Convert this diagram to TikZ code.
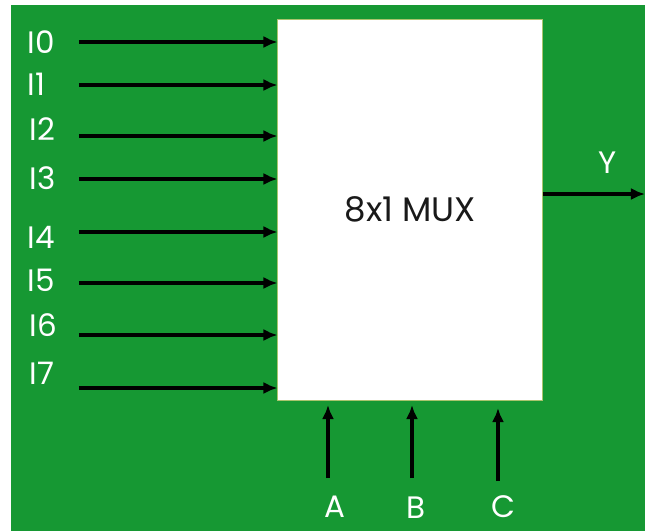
\documentclass[tikz,border=0pt]{standalone}
\usepackage{fontspec}
\setmainfont{Poppins}
\usepackage{tikz}
\usetikzlibrary{positioning,arrows.meta}
\usepackage{xcolor}
\definecolor{BgGreen}{RGB}{22,152,51}
\definecolor{BoxEdge}{RGB}{170,196,110}
\definecolor{MuxText}{RGB}{25,25,25}

\begin{document}
\begin{tikzpicture}[
    x=0.5pt, y=-0.5pt,
    mux/.style={rectangle, draw=BoxEdge, line width=0.5pt, fill=white,
        minimum width=132.5pt, minimum height=190.5pt, inner sep=0pt,
        font=\fontsize{17}{20}\selectfont, text=MuxText},
    lbl/.style={font=\fontsize{15.5}{18}\selectfont, text=white, inner sep=0pt},
    arrow/.style={-{Latex[length=7pt,width=6pt]}, black, line width=1.7pt}
]
\useasboundingbox (0,0) rectangle (645,531);
\fill[BgGreen] (11,5) rectangle (645,531);

\node[mux] (m) at (410.5,209.5) {8x1 MUX};

% inputs
\node[lbl, anchor=west] (l0) at (27,42)  {I0};
\node[lbl, anchor=west] (l1) at (27,84)  {I1};
\node[lbl, anchor=west] (l2) at (29,129) {I2};
\node[lbl, anchor=west] (l3) at (29,178) {I3};
\node[lbl, anchor=west] (l4) at (27,237) {I4};
\node[lbl, anchor=west] (l5) at (27,280) {I5};
\node[lbl, anchor=west] (l6) at (29,325) {I6};
\node[lbl, anchor=west] (l7) at (29,373) {I7};
\coordinate (i0) at (79,42);  \coordinate (i1) at (79,85);
\coordinate (i2) at (79,136); \coordinate (i3) at (79,179);
\coordinate (i4) at (79,232); \coordinate (i5) at (79,283);
\coordinate (i6) at (79,335); \coordinate (i7) at (79,388);
\draw[arrow] (i0) -- (i0 -| m.west); \draw[arrow] (i1) -- (i1 -| m.west);
\draw[arrow] (i2) -- (i2 -| m.west); \draw[arrow] (i3) -- (i3 -| m.west);
\draw[arrow] (i4) -- (i4 -| m.west); \draw[arrow] (i5) -- (i5 -| m.west);
\draw[arrow] (i6) -- (i6 -| m.west); \draw[arrow] (i7) -- (i7 -| m.west);

% output
\coordinate (yout) at (645,194);
\node[lbl] (ly) at (608,163) {Y};
\draw[arrow] (m.east |- yout) -- (yout);

% select lines
\node[lbl] (la) at (335,507) {A};
\node[lbl] (lb) at (416,508) {B};
\node[lbl] (lc) at (503,507) {C};
\coordinate (sa) at (328,478); \coordinate (sb) at (412,478); \coordinate (sc) at (498,481);
\draw[arrow] (sa) -- ++(0,-73);
\draw[arrow] (sb) -- ++(0,-73);
\draw[arrow] (sc) -- ++(0,-73);
\end{tikzpicture}
\end{document}
